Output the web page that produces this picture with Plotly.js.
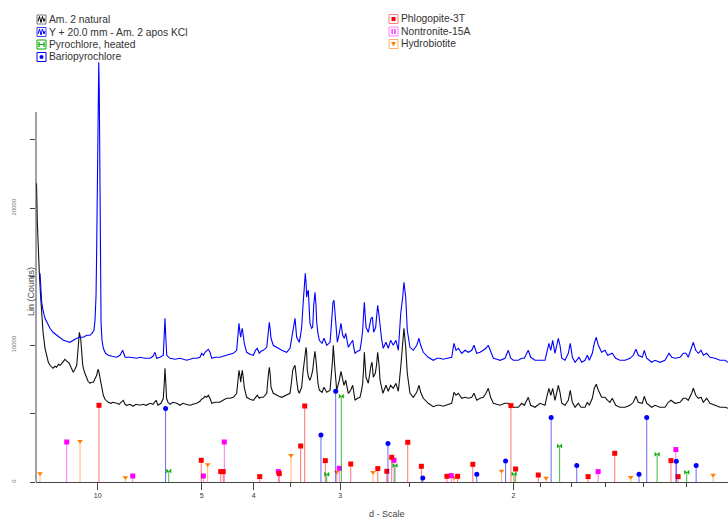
<!DOCTYPE html>
<html><head><meta charset="utf-8">
<script src="https://cdn.plot.ly/plotly-3.0.1.min.js"></script>
<style>html,body{margin:0;padding:0;background:#fff}#chart{width:728px;height:518px}</style>
</head><body><div id="chart"></div>
<script>
// ---- scan data (x = 1/d in 1/Angstrom, y = Lin counts as displayed) ----
const blackQ = [0.0402,0.0411,0.0419,0.0428,0.0438,0.0450,0.0461,0.0474,0.0493,0.0509,
0.0525,0.0541,0.0557,0.0570,0.0589,0.0605,0.0623,0.0637,0.0654,0.0671,
0.0685,0.0695,0.0709,0.0727,0.0743,0.0757,0.0765,0.0781,0.0798,0.0810,
0.0823,0.0836,0.0846,0.0856,0.0873,0.0894,0.0907,0.0926,0.0940,0.0958,
0.0974,0.0990,0.0998,0.1006,0.1012,0.1022,0.1036,0.1054,0.1070,0.1102,
0.1128,0.1147,0.1183,0.1205,0.1224,0.1246,0.1263,0.1279,0.1311,0.1339,
0.1368,0.1407,0.1436,0.1465,0.1503,0.1532,0.1561,0.1580,0.1609,0.1631,
0.1642,0.1647,0.1654,0.1662,0.1676,0.1695,0.1724,0.1760,0.1792,0.1820,
0.1849,0.1888,0.1917,0.1952,0.1984,0.1998,0.2016,0.2032,0.2048,0.2064,
0.2080,0.2097,0.2128,0.2176,0.2205,0.2241,0.2273,0.2304,0.2337,0.2350,
0.2359,0.2369,0.2376,0.2383,0.2391,0.2401,0.2410,0.2433,0.2465,0.2497,
0.2518,0.2535,0.2554,0.2571,0.2593,0.2626,0.2641,0.2651,0.2660,0.2667,
0.2689,0.2722,0.2744,0.2770,0.2792,0.2818,0.2850,0.2864,0.2876,0.2888,
0.2898,0.2914,0.2927,0.2939,0.2951,0.2962,0.2975,0.2985,0.2994,0.3004,
0.3010,0.3016,0.3028,0.3042,0.3057,0.3068,0.3081,0.3090,0.3100,0.3107,
0.3119,0.3132,0.3158,0.3177,0.3189,0.3203,0.3235,0.3244,0.3251,0.3259,
0.3266,0.3273,0.3283,0.3299,0.3312,0.3324,0.3340,0.3357,0.3369,0.3386,
0.3398,0.3411,0.3434,0.3453,0.3465,0.3475,0.3499,0.3523,0.3538,0.3549,
0.3557,0.3565,0.3573,0.3581,0.3603,0.3619,0.3629,0.3639,0.3651,0.3670,
0.3682,0.3693,0.3706,0.3716,0.3730,0.3744,0.3773,0.3795,0.3818,0.3843,
0.3869,0.3892,0.3915,0.3934,0.3946,0.3963,0.3978,0.4004,0.4036,0.4069,
0.4091,0.4107,0.4132,0.4180,0.4228,0.4264,0.4293,0.4322,0.4357,0.4405,
0.4427,0.4447,0.4469,0.4502,0.4533,0.4565,0.4598,0.4620,0.4646,0.4678,
0.4709,0.4735,0.4757,0.4780,0.4806,0.4841,0.4870,0.4918,0.4950,0.4973,
0.4998,0.5046,0.5079,0.5104,0.5142,0.5165,0.5207,0.5255,0.5303,0.5319,
0.5341,0.5358,0.5377,0.5399,0.5431,0.5447,0.5464,0.5495,0.5527,0.5546,
0.5566,0.5592,0.5623,0.5649,0.5688,0.5710,0.5729,0.5758,0.5777,0.5796,
0.5816,0.5848,0.5880,0.5906,0.5928,0.5950,0.5983,0.6024,0.6073,0.6121,
0.6152,0.6178,0.6200,0.6239,0.6258,0.6281,0.6329,0.6361,0.6409,0.6457,
0.6489,0.6515,0.6554,0.6602,0.6633,0.6659,0.6681,0.6714,0.6730,0.6753,
0.6778,0.6804,0.6826,0.6858,0.6890,0.6938,0.6986,0.7035,0.7063];
const blackI = [21294,21805,18958,16914,15308,13629,12169,10928,9760,9176,
8738,8519,8373,8300,8446,8373,8592,8519,8665,8811,
8957,8884,8811,8665,8373,8154,8008,8227,8519,9614,
10928,10490,9468,8519,8008,7570,7351,7205,7278,7278,
7497,7789,8081,8227,8008,7643,6986,6329,6037,5818,
5745,5818,5745,5672,5818,5964,5672,5599,5672,5526,
5672,5599,5672,5599,5745,5672,5964,5599,5745,6110,
7424,8300,7424,6110,5818,5672,5818,5745,5599,5745,
5672,5599,5672,5745,5891,6037,6110,6256,6183,6329,
6110,5745,5818,5818,5964,6110,6110,6183,6475,7424,
8154,7716,7278,7789,8154,7570,6913,6183,6037,5964,
6183,6329,6110,6183,6183,6475,7789,8373,7789,6913,
6475,6329,6256,6183,6256,6329,6475,7278,8154,8373,
8519,7424,6694,6475,6694,6913,8008,8665,9468,9833,
9468,8154,7643,7424,7789,8154,9030,9541,8884,7935,
7205,6694,6548,6913,6694,6548,6694,7424,8154,8884,
9979,8884,8154,6694,7059,7424,8081,7424,7059,7424,
6840,6475,6694,7059,6475,5964,6110,6183,6694,7205,
8154,9468,8519,7643,7205,8154,8519,8738,7643,7935,
8519,9468,8592,7424,6840,6475,7059,6621,7059,6840,
7205,6621,8373,9833,11220,9833,7935,6475,6183,6548,
7059,6548,6110,5745,5500,5599,5599,5526,5599,5745,
6548,6329,6475,6110,6183,6110,6183,6475,5964,6110,
6183,6475,6840,6183,5745,5672,5599,5745,5745,5526,
5453,5453,5745,5599,6183,5599,5453,5745,5599,6183,
6840,6329,6840,5964,7059,6548,5745,5599,5964,6694,
5818,5453,5745,5453,5453,5818,5599,6110,6840,7132,
6694,6183,6183,5964,5818,6110,5599,5453,5453,5599,
5818,6256,5818,5745,6256,5745,5453,5599,5453,5453,
5818,5964,5745,5818,6110,6110,5964,6475,6840,6329,
6110,6183,5818,6110,5745,5599,5453,5453,5380];

const blueQ = [0.0445,0.0454,0.0461,0.0474,0.0493,0.0517,0.0541,0.0570,0.0605,0.0637,
0.0669,0.0702,0.0733,0.0765,0.0798,0.0830,0.0861,0.0894,0.0926,0.0945,
0.0964,0.0974,0.0984,0.0990,0.0996,0.1003,0.1010,0.1015,0.1019,0.1022,
0.1027,0.1032,0.1041,0.1054,0.1075,0.1102,0.1137,0.1183,0.1214,0.1240,
0.1263,0.1311,0.1375,0.1407,0.1455,0.1503,0.1532,0.1551,0.1567,0.1599,
0.1631,0.1641,0.1647,0.1654,0.1664,0.1695,0.1744,0.1792,0.1856,0.1888,
0.1917,0.1952,0.1984,0.2000,0.2016,0.2032,0.2048,0.2064,0.2080,0.2097,
0.2128,0.2176,0.2205,0.2241,0.2273,0.2304,0.2337,0.2350,0.2359,0.2369,
0.2376,0.2383,0.2391,0.2401,0.2410,0.2433,0.2465,0.2497,0.2518,0.2535,
0.2554,0.2571,0.2593,0.2626,0.2641,0.2651,0.2660,0.2667,0.2689,0.2722,
0.2744,0.2770,0.2792,0.2818,0.2850,0.2864,0.2876,0.2888,0.2898,0.2914,
0.2927,0.2939,0.2951,0.2962,0.2975,0.2985,0.2997,0.3004,0.3010,0.3018,
0.3026,0.3033,0.3042,0.3057,0.3068,0.3078,0.3090,0.3100,0.3107,0.3119,
0.3132,0.3158,0.3177,0.3203,0.3235,0.3244,0.3251,0.3263,0.3273,0.3283,
0.3289,0.3305,0.3324,0.3340,0.3357,0.3372,0.3386,0.3398,0.3411,0.3434,
0.3453,0.3465,0.3475,0.3499,0.3523,0.3538,0.3549,0.3557,0.3565,0.3573,
0.3581,0.3603,0.3619,0.3629,0.3642,0.3655,0.3674,0.3684,0.3693,0.3706,
0.3716,0.3730,0.3747,0.3773,0.3795,0.3818,0.3843,0.3869,0.3892,0.3915,
0.3934,0.3946,0.3963,0.3978,0.4004,0.4036,0.4069,0.4091,0.4107,0.4132,
0.4180,0.4228,0.4264,0.4293,0.4322,0.4357,0.4405,0.4427,0.4447,0.4469,
0.4502,0.4533,0.4565,0.4598,0.4620,0.4646,0.4678,0.4709,0.4735,0.4757,
0.4780,0.4806,0.4841,0.4870,0.4918,0.4950,0.4973,0.4998,0.5046,0.5079,
0.5104,0.5142,0.5165,0.5207,0.5255,0.5303,0.5325,0.5341,0.5358,0.5377,
0.5399,0.5431,0.5447,0.5464,0.5495,0.5527,0.5546,0.5566,0.5592,0.5630,
0.5656,0.5688,0.5710,0.5729,0.5758,0.5777,0.5796,0.5816,0.5848,0.5880,
0.5906,0.5950,0.5983,0.6024,0.6073,0.6121,0.6152,0.6178,0.6200,0.6239,
0.6258,0.6281,0.6329,0.6361,0.6409,0.6457,0.6496,0.6522,0.6554,0.6602,
0.6633,0.6659,0.6681,0.6714,0.6730,0.6753,0.6778,0.6804,0.6826,0.6858,
0.6890,0.6938,0.6986,0.7035,0.7063];
const blueI = [15235,13775,13118,12534,11950,11585,11220,10928,10709,10490,
10344,10271,10198,10344,10490,10563,10563,10709,10709,10855,
11074,11804,13629,16914,21440,27134,30638,28594,22754,18958,
13994,11658,10344,9760,9395,9249,9176,9103,9249,9614,
9103,9103,9030,9103,9030,9030,9176,9468,9030,9103,
9249,10709,11950,10709,9249,9030,8957,9030,8884,8957,
9030,9030,9103,9395,9249,9468,9614,9687,9468,9030,
9103,9103,9176,9249,9322,9395,9614,10709,11585,10855,
10563,11001,11220,10636,10125,9468,9322,9249,9614,9760,
9395,9541,9614,9833,11074,11658,11074,10490,9979,9833,
9687,9614,9541,9468,9760,10490,11074,11804,11950,10563,
10344,10198,10709,11293,12899,13775,15235,14578,13483,13848,
13994,12899,11585,11220,11293,12899,13848,12899,11585,10855,
10344,10125,10490,9979,10198,11074,11804,13118,13264,12169,
11439,10198,10855,11585,10709,10490,10855,10198,9833,10125,
10344,9760,9395,9541,9614,10344,11074,12169,13118,12169,
11293,10928,11585,11950,12023,10928,11293,12169,12899,12169,
11439,10490,9760,10198,9760,10344,9979,10344,9614,12315,
13483,14578,13483,11074,9833,9614,9979,10490,9979,9468,
9103,8884,9030,9030,8957,9030,9103,10125,9614,9760,
9395,9614,9468,9614,9979,9395,9468,9614,9760,9979,
9468,9030,8957,8884,9030,9614,9030,8884,8884,9030,
9030,9614,9103,8884,8884,8884,9614,10125,9614,10344,
9395,10490,9979,9030,8884,9395,10125,9103,8738,9103,
8738,8884,9249,8884,9395,10125,10563,9979,9468,9614,
9249,9395,9030,8884,8884,9030,9249,9687,9249,9103,
9614,9030,8738,8884,8738,8884,9395,9103,9030,9103,
9395,9395,9103,9760,10198,9614,9395,9614,9249,9395,
9103,9030,8884,8884,8738];

// ---- reference patterns (d in Angstrom, intensity in counts) ----
const phlogopiteD = [9.88,5.01,4.58,4.53,3.909,3.641,3.387,3.343,3.135,2.912,2.707,2.645,2.612,2.511,2.431,2.294,2.241,2.170,2.010,1.992,1.909,1.749,1.674,1.535,1.519];
const phlogopiteI = [5599,1584,759,759,394,613,2628,5548,1562,1314,978,781,1803,2898,1146,416,416,1292,5577,949,511,394,2095,1562,394];
const nontroniteD = [14.25,7.48,4.96,4.509,3.653,3.008,2.597,2.272,1.720,1.524];
const nontroniteI = [2920,438,438,2920,759,1000,1584,467,759,2365];
const hydrobiotiteD = [22.48,12.05,7.90,4.86,3.497,3.031,2.741,2.259,2.047,1.882,1.632,1.445];
const hydrobiotiteI = [613,2971,321,1270,1949,730,708,321,803,292,343,511];
const bariopyrochloreD = [6.05,3.177,3.040,2.637,2.423,2.152,2.031,1.865,1.783,1.611,1.592,1.523,1.480];
const bariopyrochloreI = [5358,3431,6621,2803,292,562,1533,4701,1197,562,4701,1511,1197];
const pyrochloreD = [5.94,3.122,2.991,2.591,1.998,1.837,1.567,1.500];
const pyrochloreI = [803,562,6256,1197,584,2628,2022,708];

// ---- axis labels ----
const dTicks = [10,5,4,3,2];
const dMinorTicks = [3.5,2.5,1.9,1.8,1.7,1.6,1.5];
const yTicks = [0,5000,10000,15000,20000,25000];
const yTickText = ['0','','10000','','20000',''];
const scanNames = ['Am. 2 natural','Y + 20.0 mm - Am. 2 apos KCl'];
const phaseNames = ['Pyrochlore, heated','Bariopyrochlore','Phlogopite-3T','Nontronite-15A','Hydrobiotite'];

// ---- layout geometry ----
const W=728,H=518,M={l:36,r:0,t:40,b:36};
const PW=W-M.l-M.r, PH=H-M.t-M.b;
const YMAX = PH*5000/68.5;
const px = x => (x-M.l)/PW;
const py = y => (H-M.b-y)/PH;
function px2q(x){return 0.006+0.000962*x;}

const traces = [];
traces.push({x:blackQ,y:blackI,mode:'lines',line:{color:'#111111',width:1.1},hoverinfo:'skip',showlegend:false});
traces.push({x:blueQ,y:blueI,mode:'lines',line:{color:'#0000ff',width:1.1},hoverinfo:'skip',showlegend:false});

const phases = [
  {d:hydrobiotiteD,I:hydrobiotiteI,color:'#ff8000',line:'rgba(255,128,0,0.6)',sym:'triangle-down'},
  {d:nontroniteD,I:nontroniteI,color:'#ff00ff',line:'rgba(255,0,255,0.55)',sym:'square'},
  {d:phlogopiteD,I:phlogopiteI,color:'#ff0000',line:'rgba(255,0,0,0.55)',sym:'square'},
  {d:bariopyrochloreD,I:bariopyrochloreI,color:'#0000ff',line:'rgba(0,0,255,0.6)',sym:'circle'},
  {d:pyrochloreD,I:pyrochloreI,color:'#00aa00',line:'rgba(0,160,0,0.75)',sym:'bowtie'}
];
phases.forEach(p=>{
  const xs=[],ys=[];
  p.d.forEach((d,i)=>{xs.push(1/d,1/d,null);ys.push(0,p.I[i],null);});
  traces.push({x:xs,y:ys,mode:'lines',line:{color:p.line,width:1},hoverinfo:'skip',showlegend:false,connectgaps:false});
  traces.push({x:p.d.map(d=>1/d),y:p.I,mode:'markers',marker:{symbol:p.sym,size:5,color:p.color,line:{width:0}},hoverinfo:'skip',showlegend:false});
});

// ---- legend (drawn as annotations + shapes) ----
const annotations=[], shapes=[];
const FONT='Liberation Sans, Arial, sans-serif';
function legendItem(x,yc,text,boxColor,kind,c){
  annotations.push({xref:'paper',yref:'paper',x:px(x+10),y:py(yc),text:text,showarrow:false,xanchor:'left',yanchor:'middle',font:{family:FONT,size:10.3,color:'#333'}});
  shapes.push({type:'rect',xref:'paper',yref:'paper',x0:px(x),x1:px(x+9),y0:py(yc+4.5),y1:py(yc-4.5),line:{color:boxColor,width:1},fillcolor:'#ffffff'});
  const P=(pts)=>pts.map((p,i)=>(i?'L':'M')+px(p[0]).toFixed(5)+','+py(p[1]).toFixed(5)).join(' ');
  if(kind==='wave'){
    shapes.push({type:'path',xref:'paper',yref:'paper',path:P([[x+1,yc+2],[x+2.5,yc-3],[x+4,yc+3],[x+5.5,yc-3],[x+7,yc+2],[x+8,yc-1]]),line:{color:c,width:1}});
  } else if(kind==='square'){
    shapes.push({type:'rect',xref:'paper',yref:'paper',x0:px(x+2.5),x1:px(x+6.5),y0:py(yc+2),y1:py(yc-2),line:{width:0},fillcolor:c});
  } else if(kind==='circle'){
    shapes.push({type:'circle',xref:'paper',yref:'paper',x0:px(x+2.5),x1:px(x+6.5),y0:py(yc+2),y1:py(yc-2),line:{width:0},fillcolor:c});
  } else if(kind==='tri'){
    shapes.push({type:'path',xref:'paper',yref:'paper',path:P([[x+2,yc-2],[x+7,yc-2],[x+4.5,yc+2.5]])+' Z',line:{width:0},fillcolor:c});
  } else if(kind==='bars'){
    shapes.push({type:'rect',xref:'paper',yref:'paper',x0:px(x+2.5),x1:px(x+3.7),y0:py(yc+2.5),y1:py(yc-2.5),line:{width:0},fillcolor:c});
    shapes.push({type:'rect',xref:'paper',yref:'paper',x0:px(x+5.3),x1:px(x+6.5),y0:py(yc+2.5),y1:py(yc-2.5),line:{width:0},fillcolor:c});
  } else if(kind==='H'){
    shapes.push({type:'path',xref:'paper',yref:'paper',path:P([[x+2,yc-2.5],[x+2,yc+2.5]])+' '+P([[x+7,yc-2.5],[x+7,yc+2.5]])+' '+P([[x+2,yc],[x+7,yc]]),line:{color:c,width:1.2}});
  }
}
legendItem(37,19.5,scanNames[0],'#777','wave','#000');
legendItem(37,32,scanNames[1],'#4040ff','wave','#0000ff');
legendItem(37,44.5,phaseNames[0],'#00aa00','H','#00aa00');
legendItem(37,57,phaseNames[1],'#0000ff','circle','#0000ff');
legendItem(389,19,phaseNames[2],'#ff8080','square','#ff0000');
legendItem(389,31.5,phaseNames[3],'#ff80ff','bars','#ff00ff');
legendItem(389,44,phaseNames[4],'#ffb070','tri','#ff8000');

// axis titles
annotations.push({xref:'paper',yref:'paper',x:px(31),y:py(292),text:'Lin (Counts)',textangle:-90,showarrow:false,xanchor:'center',yanchor:'middle',font:{family:FONT,size:9,color:'#444'}});
annotations.push({xref:'paper',yref:'paper',x:px(387),y:py(514),text:'d - Scale',showarrow:false,xanchor:'center',yanchor:'middle',font:{family:FONT,size:9,color:'#444'}});

// y axis line (only up to the top tick region)
shapes.push({type:'line',xref:'paper',yref:'y',x0:0,x1:0,y0:0,y1:27000,line:{color:'#444',width:1}});

const layout = {
  width:W,height:H,margin:M,paper_bgcolor:'#fff',plot_bgcolor:'#fff',showlegend:false,
  font:{family:FONT,color:'#333'},
  xaxis:{range:[px2q(36),px2q(728)],tickmode:'array',tickvals:dTicks.map(d=>1/d),ticktext:dTicks.map(String),
    ticks:'outside',ticklen:7,tickcolor:'#444',tickwidth:1,showline:true,linecolor:'#444',linewidth:1,
    showgrid:false,zeroline:false,tickfont:{size:7,color:'#333'},
    minor:{tickmode:'array',tickvals:dMinorTicks.map(d=>1/d),ticks:'outside',ticklen:4,tickcolor:'#444',showgrid:false}},
  yaxis:{range:[0,YMAX],tickmode:'array',tickvals:yTicks,ticktext:yTickText,ticks:'outside',ticklen:5,tickcolor:'#444',
    showline:false,showgrid:false,zeroline:false,tickangle:-90,tickfont:{size:6,color:'#777'},ticklabelstandoff:12},
  annotations:annotations,shapes:shapes
};
Plotly.newPlot('chart',traces,layout,{staticPlot:true,displayModeBar:false});
</script></body></html>
